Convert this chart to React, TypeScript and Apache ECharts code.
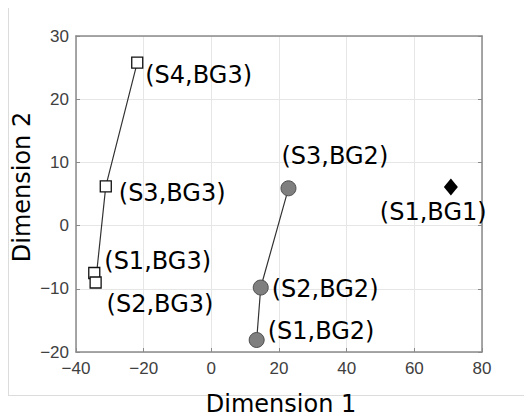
import React, { useEffect, useRef } from "react";
import * as echarts from "echarts";

// ---- data ----
const bg3Labels = ["(S1,BG3)", "(S2,BG3)", "(S3,BG3)", "(S4,BG3)"];
const bg3X = [-34.6, -34.2, -31.2, -21.9];
const bg3Y = [-7.5, -9.0, 6.2, 25.8];

const bg2Labels = ["(S1,BG2)", "(S2,BG2)", "(S3,BG2)"];
const bg2X = [13.4, 14.6, 22.8];
const bg2Y = [-18.1, -9.8, 5.9];

const bg1Labels = ["(S1,BG1)"];
const bg1X = [70.8];
const bg1Y = [6.1];

const xMin = -40, xMax = 80, xStep = 20;
const yMin = -20, yMax = 30, yStep = 10;
const xTitle = "Dimension 1";
const yTitle = "Dimension 2";

// ---- label placement (style, kept apart from data) ----
const labelOffsets: Record<string, [number, number]> = {
  "(S1,BG3)": [10, -12],
  "(S2,BG3)": [11, 22],
  "(S3,BG3)": [13, 7],
  "(S4,BG3)": [8, 12],
  "(S1,BG2)": [11, -9],
  "(S2,BG2)": [11, 1],
  "(S3,BG2)": [-7, -32],
  "(S1,BG1)": [-71, 25],
};

const LABEL_FONT = "'DejaVu Sans', sans-serif";

const fmt = (v: number) => (v < 0 ? "\u2212" + Math.abs(v) : String(v));

function buildData(labels: string[], xs: number[], ys: number[]) {
  return labels.map((name, i) => ({
    name,
    value: [xs[i], ys[i]],
    label: {
      show: true,
      position: "inside",
      align: "left",
      verticalAlign: "middle",
      offset: labelOffsets[name],
      formatter: name,
      color: "#000",
      opacity: 1,
      fontFamily: LABEL_FONT,
      fontSize: 24,
    },
  }));
}

export default function App() {
  const ref = useRef<HTMLDivElement>(null);
  useEffect(() => {
    if (!ref.current) return;
    const chart = echarts.init(ref.current, undefined, { renderer: "svg" });
    const axisBase = {
      type: "value" as const,
      axisLine: { show: true, onZero: false, lineStyle: { color: "#8a8a8a", width: 1.5 } },
      axisTick: { show: true, inside: true, length: 4, lineStyle: { color: "#8a8a8a" } },
      splitLine: { show: true, lineStyle: { color: "#e6e6e6", width: 1 } },
    };
    chart.setOption({
      animation: false,
      backgroundColor: "#fff",
      grid: { left: 76, right: 42, top: 36, bottom: 66, containLabel: false },
      xAxis: [
        {
          ...axisBase,
          min: xMin,
          max: xMax,
          interval: xStep,
          position: "bottom",
          axisLabel: {
            formatter: fmt,
            color: "#404040",
            fontFamily: "'Liberation Sans', Arial, sans-serif",
            fontSize: 17,
            margin: 8,
          },
        },
        {
          ...axisBase,
          min: xMin,
          max: xMax,
          interval: xStep,
          position: "top",
          axisTick: { show: false },
          splitLine: { show: false },
          axisLabel: { show: false },
        },
      ],
      yAxis: [
        {
          ...axisBase,
          min: yMin,
          max: yMax,
          interval: yStep,
          position: "left",
          axisLabel: {
            formatter: fmt,
            color: "#404040",
            fontFamily: "'Liberation Sans', Arial, sans-serif",
            fontSize: 17,
            margin: 7,
          },
        },
        {
          ...axisBase,
          min: yMin,
          max: yMax,
          interval: yStep,
          position: "right",
          splitLine: { show: false },
          axisLabel: { show: false },
        },
      ],
      graphic: [
        {
          type: "line",
          shape: { x1: 8.5, y1: 8, x2: 8.5, y2: 395.5 },
          style: { stroke: "#dcdcdc", lineWidth: 1 },
        },
        {
          type: "line",
          shape: { x1: 8, y1: 395.5, x2: 524, y2: 395.5 },
          style: { stroke: "#dcdcdc", lineWidth: 1 },
        },
        {
          type: "text",
          x: 281,
          y: 404,
          style: {
            text: xTitle,
            fontFamily: LABEL_FONT,
            fontSize: 24,
            fill: "#000",
            textAlign: "center",
            textVerticalAlign: "middle",
          },
        },
        {
          type: "text",
          x: 22,
          y: 187,
          rotation: Math.PI / 2,
          style: {
            text: yTitle,
            fontFamily: LABEL_FONT,
            fontSize: 24,
            fill: "#000",
            textAlign: "center",
            textVerticalAlign: "middle",
          },
        },
      ],
      series: [
        {
          type: "line",
          data: buildData(bg3Labels, bg3X, bg3Y),
          symbol: "rect",
          symbolSize: 11,
          showAllSymbol: true,
          lineStyle: { color: "#333", width: 1.2 },
          itemStyle: { color: "#fff", borderColor: "#111", borderWidth: 1.3 },
          z: 3,
        },
        {
          type: "line",
          data: buildData(bg2Labels, bg2X, bg2Y),
          symbol: "circle",
          symbolSize: 15,
          showAllSymbol: true,
          lineStyle: { color: "#333", width: 1.2 },
          itemStyle: { color: "#7f7f7f", borderColor: "#4d4d4d", borderWidth: 1 },
          z: 3,
        },
        {
          type: "scatter",
          data: buildData(bg1Labels, bg1X, bg1Y),
          symbol: "diamond",
          symbolSize: [14, 17],
          itemStyle: { color: "#000", opacity: 1 },
          z: 3,
        },
      ],
    });
    return () => chart.dispose();
  }, []);
  return <div ref={ref} style={{ width: 524, height: 418, position: "absolute", left: 0, top: 0 }} />;
}
